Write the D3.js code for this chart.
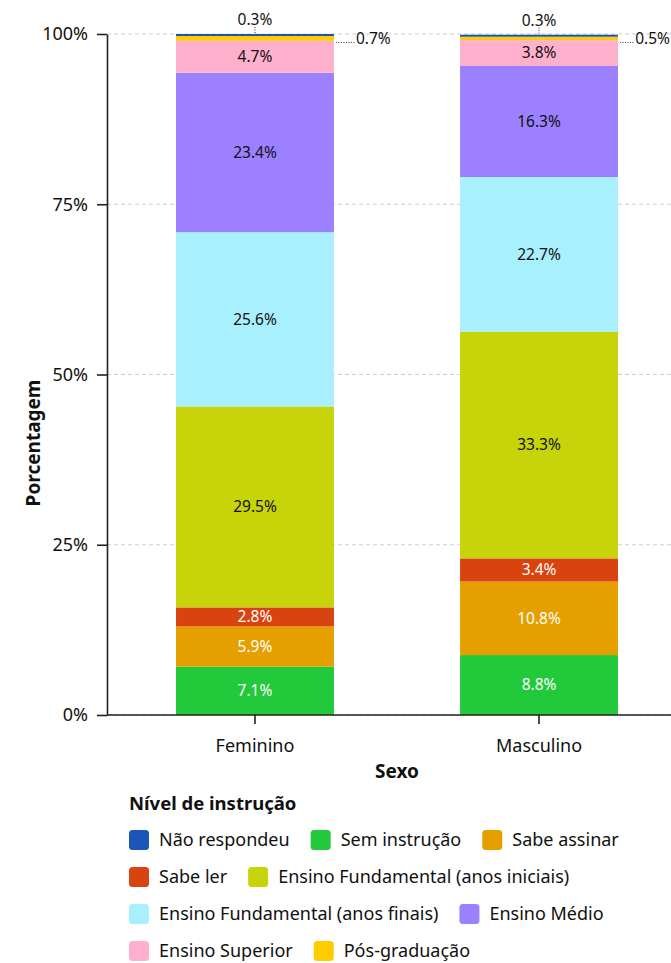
<!DOCTYPE html>
<html lang="pt">
<head>
<meta charset="UTF-8">
<title>Nível de instrução por sexo</title>
<script src="https://cdn.jsdelivr.net/npm/d3@7"></script>
<style>
  body { margin: 0; background: #fff; }
  svg { font-family: "Noto Sans", "Open Sans", sans-serif; }
</style>
</head>
<body>
<svg id="chart" width="671" height="963"></svg>
<script>
// categories and series (stack order bottom -> top)
const sexos = ["Feminino", "Masculino"];
const niveis = ["Sem instrução", "Sabe assinar", "Sabe ler",
  "Ensino Fundamental (anos iniciais)", "Ensino Fundamental (anos finais)",
  "Ensino Médio", "Ensino Superior", "Pós-graduação", "Não respondeu"];
const feminino  = [7.1, 5.9, 2.8, 29.5, 25.6, 23.4, 4.7, 0.7, 0.3];
const masculino = [8.8, 10.8, 3.4, 33.3, 22.7, 16.3, 3.8, 0.5, 0.3];
const cores = ["#22c93a", "#e5a000", "#d9430f", "#c8d40a", "#a9f0ff",
  "#9b80ff", "#ffb0cc", "#ffcc00", "#1a55b8"];
const yTicks = [0, 25, 50, 75, 100];
// legend order as shown
const legendaOrdem = ["Não respondeu", "Sem instrução", "Sabe assinar", "Sabe ler",
  "Ensino Fundamental (anos iniciais)", "Ensino Fundamental (anos finais)",
  "Ensino Médio", "Ensino Superior", "Pós-graduação"];
const legendaQuebras = [3, 5, 7];

const svg = d3.select("#chart");

const x = d3.scaleBand().domain(sexos).range([107, 687]).paddingInner(0.444).paddingOuter(0.243);
const y = d3.scaleLinear().domain([0, 100]).range([715, 34]);
const color = d3.scaleOrdinal().domain(niveis).range(cores);

// grid
svg.append("g").selectAll("line").data(yTicks).join("line")
  .attr("x1", 107).attr("x2", 671)
  .attr("y1", d => y(d)).attr("y2", d => y(d))
  .attr("stroke", "#cfcfcf").attr("stroke-dasharray", "4,3").attr("stroke-width", 1);

// stacked data
const rows = sexos.map((s, i) => {
  const vals = i === 0 ? feminino : masculino;
  const r = { sexo: s };
  niveis.forEach((n, j) => r[n] = vals[j]);
  return r;
});
const series = d3.stack().keys(niveis)(rows);

const g = svg.append("g");
series.forEach(sr => {
  g.selectAll(null).data(sr).join("rect")
    .attr("x", d => x(d.data.sexo))
    .attr("width", x.bandwidth())
    .attr("y", d => y(d[1]))
    .attr("height", d => y(d[0]) - y(d[1]))
    .attr("fill", color(sr.key));
});

// labels
const brancos = ["Sem instrução", "Sabe assinar", "Sabe ler"];
const fsLabel = 15.5;
series.forEach(sr => {
  sr.forEach(d => {
    const v = d.data[sr.key];
    const cx = x(d.data.sexo) + x.bandwidth() / 2;
    const txt = v.toFixed(1) + "%";
    if (v >= 2) {
      g.append("text")
        .attr("x", cx).attr("y", y((d[0] + d[1]) / 2))
        .attr("dy", "0.35em").attr("text-anchor", "middle")
        .attr("font-size", fsLabel)
        .attr("fill", brancos.includes(sr.key) ? "#fff" : "#111")
        .text(txt);
    } else if (sr.key === "Não respondeu") {
      g.append("line")
        .attr("x1", cx).attr("x2", cx)
        .attr("y1", y(d[1]) - 1).attr("y2", y(d[1]) - 7)
        .attr("stroke", "#333").attr("stroke-dasharray", "1,1.5");
      g.append("text")
        .attr("x", cx).attr("y", y(d[1]) - 9)
        .attr("text-anchor", "middle").attr("font-size", fsLabel).attr("fill", "#111")
        .text(txt);
    } else {
      // side label with dotted leader, kept inside the page
      const xr = x(d.data.sexo) + x.bandwidth();
      const ym = y((d[0] + d[1]) / 2);
      const t = g.append("text")
        .attr("y", ym).attr("dy", "0.35em").attr("font-size", fsLabel).attr("fill", "#111")
        .text(txt);
      const w = t.node().getComputedTextLength();
      const tx = Math.min(xr + 22, 670 - w);
      t.attr("x", tx);
      g.append("line")
        .attr("x1", xr + 2).attr("x2", tx - 1)
        .attr("y1", ym + 4).attr("y2", ym + 4)
        .attr("stroke", "#333").attr("stroke-dasharray", "1,1.5");
    }
  });
});

// axes
const yAxis = svg.append("g").attr("transform", "translate(107,0)")
  .call(d3.axisLeft(y).tickValues(yTicks).tickFormat(d => d + "%").tickSize(10).tickSizeOuter(0));
yAxis.select(".domain").attr("stroke", "#222").attr("stroke-width", 1.6);
yAxis.selectAll(".tick line").attr("stroke", "#222").attr("stroke-width", 1.6);
yAxis.selectAll("text").attr("font-size", 18).attr("fill", "#111")
  .attr("font-family", "Noto Sans, sans-serif").attr("x", -19);

const xAxis = svg.append("g").attr("transform", "translate(0,715)")
  .call(d3.axisBottom(x).tickSize(9).tickSizeOuter(0));
xAxis.select(".domain").attr("stroke", "#222").attr("stroke-width", 1.6)
  .attr("d", "M107,0H671");
xAxis.selectAll(".tick line").attr("stroke", "#222").attr("stroke-width", 1.6);
xAxis.selectAll("text").attr("font-size", 18).attr("fill", "#111")
  .attr("font-family", "Noto Sans, sans-serif").attr("y", 31).attr("dy", "0.32em");

// axis titles
svg.append("text").attr("x", 397).attr("y", 778).attr("text-anchor", "middle")
  .attr("font-size", 19).attr("font-weight", "bold").attr("fill", "#111").text("Sexo");
svg.append("text").attr("transform", "translate(40,443) rotate(-90)")
  .attr("text-anchor", "middle").attr("font-size", 19).attr("font-weight", "bold")
  .attr("fill", "#111").text("Porcentagem");

// legend
const leg = svg.append("g");
leg.append("text").attr("x", 129).attr("y", 810).attr("font-size", 18.5)
  .attr("font-weight", "bold").attr("fill", "#111").text("Nível de instrução");
let lx = 129, row = 0;
legendaOrdem.forEach((n, i) => {
  if (legendaQuebras.includes(i)) { row++; lx = 129; }
  const ly = 840 + row * 37;
  leg.append("rect").attr("x", lx).attr("y", ly - 10).attr("width", 20).attr("height", 20)
    .attr("rx", 3.5).attr("fill", color(n));
  const t = leg.append("text").attr("x", lx + 30).attr("y", ly).attr("dy", "0.35em")
    .attr("font-size", 18).attr("fill", "#111").text(n);
  lx += 30 + t.node().getComputedTextLength() + 21;
});
</script>
</body>
</html>
